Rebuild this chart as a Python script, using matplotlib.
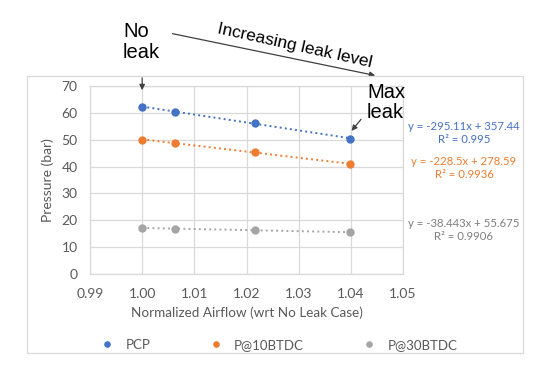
import numpy as np
import matplotlib
matplotlib.use("Agg")
import matplotlib.pyplot as plt
from matplotlib.patches import Rectangle

# ---- data ----
airflow = [1.0000, 1.0063, 1.0217, 1.0398]
pcp = [62.1, 60.5, 56.4, 50.3]
p10 = [49.9, 48.8, 45.6, 40.8]
p30 = [17.1, 16.9, 16.4, 15.5]
series_names = ["PCP", "P@10BTDC", "P@30BTDC"]
equations = ["y = -295.11x + 357.44\nR² = 0.995",
             "y = -228.5x + 278.59\nR² = 0.9936",
             "y = -38.443x + 55.675\nR² = 0.9906"]
x_ticks = [0.99, 1.00, 1.01, 1.02, 1.03, 1.04, 1.05]
y_ticks = [0, 10, 20, 30, 40, 50, 60, 70]

colors = ["#4472C4", "#ED7D31", "#A5A5A5"]
eq_colors = ["#4472C4", "#ED7D31", "#7F7F7F"]
TXT = "#595959"
GRID = "#D9D9D9"
W, H = 554, 367

plt.rcParams['font.family'] = ['Lato', 'DejaVu Sans']

fig = plt.figure(figsize=(W / 100, H / 100), dpi=100)
fig.patch.set_facecolor("white")

# chart frame
fig.add_artist(Rectangle((27 / W, 1 - 353 / H), (523 - 27) / W, (353 - 76) / H,
                         transform=fig.transFigure, fill=False,
                         edgecolor=GRID, lw=0.9))

ax = fig.add_axes([90 / W, 1 - 274 / H, 313 / W, 188 / H])
ax.set_xlim(0.99, 1.05)
ax.set_ylim(0, 70)
ax.set_xticks(x_ticks)
ax.set_xticklabels([f"{v:.2f}" for v in x_ticks])
ax.set_yticks(y_ticks)
ax.grid(True, color=GRID, lw=0.9)
ax.set_axisbelow(True)
for s in ax.spines.values():
    s.set_color(GRID)
    s.set_linewidth(0.9)
ax.tick_params(length=0, colors=TXT, labelsize=10)
ax.tick_params(axis='x', pad=10)
ax.tick_params(axis='y', pad=9)
ax.set_xlabel("Normalized Airflow (wrt No Leak Case)", color=TXT, fontsize=9.7, labelpad=5)
ax.set_ylabel("Pressure (bar)", color=TXT, fontsize=10, labelpad=5)

xa = np.array(airflow)
for vals, c, name in zip([pcp, p10, p30], colors, series_names):
    ax.plot(airflow, vals, 'o', color=c, ms=5, label=name, zorder=3)
    k, b = np.polyfit(xa, np.array(vals), 1)
    ax.plot(xa[[0, -1]], k * xa[[0, -1]] + b, ':', color=c, lw=1.4, zorder=2)

# trendline equations
eq_y = [133, 168, 230]
for txt, c, yy in zip(equations, eq_colors, eq_y):
    fig.text(464 / W, 1 - yy / H, txt, color=c, fontsize=8.2, ha='center', va='center',
             multialignment='center', linespacing=1.25)

# legend
leg = fig.legend(loc='center', bbox_to_anchor=(279 / W, 1 - 345 / H), ncol=3, frameon=False,
                 fontsize=9.5, handletextpad=0.9, columnspacing=4.45, markerscale=0.75,
                 handlelength=1.0)
for t in leg.get_texts():
    t.set_color(TXT)

# annotations
afont = ['Liberation Sans', 'DejaVu Sans']
fig.text(123 / W, 1 - 22 / H, "No\nleak", fontsize=14.5, family=afont, ha='left', va='top',
         linespacing=1.1, color='black')
fig.text(367 / W, 1 - 83 / H, "Max\nleak", fontsize=14.5, family=afont, ha='left', va='top',
         linespacing=1.1, color='black')
fig.text(295 / W, 1 - 46 / H, "Increasing leak level", fontsize=12.5, family=afont,
         ha='center', va='center', rotation=-12.5, rotation_mode='anchor', color='black')

arrow = dict(arrowstyle='-|>', color='#404040', lw=0.9, mutation_scale=8)
ax.annotate("", xy=(1.0, 67.4), xytext=(1.0, 74.1), arrowprops=arrow, annotation_clip=False)
ax.annotate("", xy=(1.0452, 73.7), xytext=(1.0053, 89.7), arrowprops=arrow, annotation_clip=False)
ax.annotate("", xy=(1.0398, 52.5), xytext=(1.0423, 58.4), arrowprops=arrow, annotation_clip=False)

fig.savefig("out.png", dpi=100, facecolor="white")
